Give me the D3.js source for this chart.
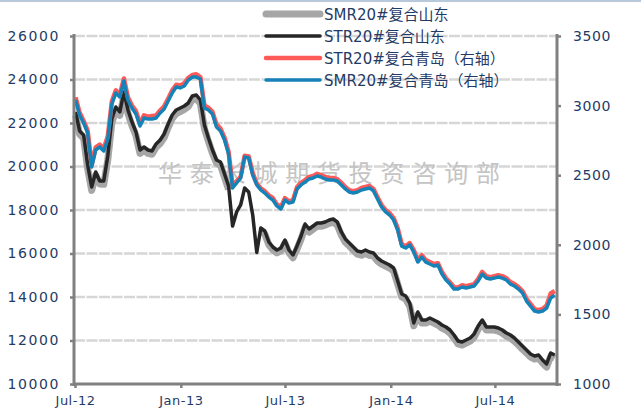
<!DOCTYPE html>
<html>
<head>
<meta charset="utf-8">
<script src="https://cdn.jsdelivr.net/npm/d3@7"></script>
<style>
  body { margin: 0; background: #fff; }
  svg { display: block; }
</style>
</head>
<body>
<div id="chart"></div>
<script>
// weekly readings, first week starting 2012-07-02
var startDate = "2012-07-02";

var smrShandong = [
  22350,21480,21300,19900,18900,19600,19200,19180,20300,22000,
  22580,22350,23250,22450,21880,21420,20600,20740,20600,20560,
  20880,21060,21330,21790,22200,22430,22520,22620,22760,23080,
  23120,22900,21750,21150,20600,20150,20050,19500,18950,null,
  null,null,null,null,null,null,17050,16900,16400,16170,
  16030,16120,16480,16030,15800,16200,16660,17200,16980,17120,
  17260,17250,17300,17390,17430,17300,16850,16520,16340,16150,
  15970,15920,16010,15920,15880,15650,15510,15420,15330,15190,
  14600,14000,13900,13580,12680,13170,12800,12800,12890,12800,
  12710,12570,12480,12340,12110,11840,11790,11880,11970,12150,
  12520,12800,12480,12480,12480,12430,12340,12200,12110,11970,
  11790,11600,11420,11240,11150,11190,10960,10780,11280,11190
];

var strShandong = [
  22507,21633,21449,20070,19058,19748,19334,19334,20483,22185,
  22736,22507,23426,22599,22047,21587,20759,20897,20759,20713,
  21035,21219,21495,21955,22369,22599,22690,22782,22920,23242,
  23288,23058,21909,21311,20759,20300,20208,19656,19104,17265,
  17909,18230,19012,18828,17771,16050,17173,17035,16529,16299,
  16161,16253,16621,16161,15931,16345,16805,17357,17127,17265,
  17403,17403,17449,17541,17587,17449,16989,16667,16483,16299,
  16115,16069,16161,16069,16023,15793,15655,15564,15472,15334,
  14736,14138,14046,13724,12805,13311,12943,12943,13035,12943,
  12851,12713,12621,12483,12253,11977,11931,12023,12115,12299,
  12667,12943,12621,12621,12621,12575,12483,12345,12253,12115,
  11931,11747,11563,11379,11287,11333,11104,10920,11425,11333
];

var strQingdao = [
  3060,2950,2890,2820,2575,2700,2720,2690,2780,3030,
  3110,3080,3195,3060,3000,2960,2870,2930,2920,2925,
  2930,2965,2995,3050,3110,3150,3145,3160,3200,3220,
  3225,3205,3000,2985,2955,2865,2835,2770,2670,2425,
  2455,2490,2640,2635,2515,2440,2405,2385,2355,2335,
  2290,2270,2335,2312,2320,2415,2445,2465,2488,2495,
  2510,2500,2488,2480,2480,2472,2445,2415,2392,2385,
  2392,2408,2415,2422,2400,2342,2285,2250,2228,2192,
  2120,2005,1990,2012,1962,1890,1925,1890,1876,1862,
  1868,1804,1760,1730,1695,1694,1710,1703,1710,1717,
  1755,1805,1775,1768,1775,1782,1775,1760,1732,1718,
  1696,1668,1612,1575,1538,1530,1540,1565,1650,1668
];

var smrQingdao = [
  3040,2932,2875,2803,2559,2681,2703,2674,2760,3011,
  3091,3062,3177,3040,2983,2940,2853,2911,2904,2904,
  2911,2947,2976,3033,3091,3134,3127,3141,3184,3205,
  3205,3191,2983,2968,2940,2846,2818,2753,2652,2408,
  2444,2480,2631,2624,2501,2430,2394,2372,2343,2322,
  2279,2257,2322,2300,2307,2401,2430,2451,2473,2480,
  2494,2487,2473,2466,2466,2458,2430,2401,2379,2372,
  2379,2394,2401,2408,2387,2329,2272,2236,2214,2178,
  2106,1991,1977,1999,1948,1876,1912,1876,1862,1848,
  1855,1790,1747,1718,1682,1682,1697,1690,1697,1704,
  1740,1790,1761,1754,1761,1769,1761,1747,1718,1704,
  1682,1654,1596,1560,1524,1517,1524,1546,1618,1639
];

var leftTicks = [10000,12000,14000,16000,18000,20000,22000,24000,26000];
var rightTicks = [1000,1500,2000,2500,3000,3500];
var xTicks = ["2012-07-01","2013-01-01","2013-07-01","2014-01-01","2014-07-01"];
var seriesNames = ["SMR20#复合山东","STR20#复合山东","STR20#复合青岛（右轴）","SMR20#复合青岛（右轴）"];
var watermark = "华泰长城期货投资咨询部";

function init() {
    var w = 641, h = 417;
    var pLeft = 74, pRight = 557, pTop = 36, pBottom = 384;
    var parse = d3.timeParse("%Y-%m-%d");
    var navy = "#1f3b66";
    var font = "'DejaVu Sans', sans-serif";

    var start = parse(startDate);
    var dates = smrQingdao.map(function(d, i){ return d3.timeDay.offset(start, i * 7); });

    var svg = d3.select("#chart").append("svg")
        .attr("width", w)
        .attr("height", h);

    svg.append("rect").attr("x", 0).attr("y", 0).attr("width", w).attr("height", 2).attr("fill", "#b8c9dc");

    var x = d3.scaleTime()
        .domain([parse("2012-07-01"), parse("2014-10-17")])
        .range([pLeft + 1, pRight]);
    var yL = d3.scaleLinear().domain([10000, 26000]).range([pBottom, pTop]);
    var yR = d3.scaleLinear().domain([1000, 3500]).range([pBottom, pTop]);

    // gridlines
    svg.append("g")
        .selectAll("line")
        .data(leftTicks.slice(1))
        .enter()
        .append("line")
        .attr("x1", pLeft)
        .attr("x2", pRight)
        .attr("y1", function(d){ return yL(d); })
        .attr("y2", function(d){ return yL(d); })
        .attr("stroke", "#d6d6d6")
        .attr("stroke-width", 2.5)
        .attr("stroke-dasharray", "11,1.5");

    // watermark
    svg.append("text")
        .attr("x", 158)
        .attr("y", 182)
        .attr("font-family", "'Noto Sans CJK SC', sans-serif")
        .attr("font-size", 24)
        .attr("letter-spacing", 7.8)
        .attr("fill", "#c4c4c4")
        .text(watermark);

    function lineFor(scale) {
        return d3.line()
            .defined(function(d){ return d.v != null; })
            .x(function(d){ return x(d.date); })
            .y(function(d){ return scale(d.v); });
    }

    function rows(values) {
        return values.map(function(v, i){ return {date: dates[i], v: v}; });
    }

    var series = [
        {vals: smrShandong, scale: yL, color: "#a6a6a6", width: 7},
        {vals: strShandong, scale: yL, color: "#262626", width: 3.5},
        {vals: strQingdao, scale: yR, color: "#ff5a5a", width: 4.5},
        {vals: smrQingdao, scale: yR, color: "#1583b8", width: 3.5}
    ];

    series.forEach(function(s){
        svg.append("path")
            .datum(rows(s.vals))
            .attr("fill", "none")
            .attr("stroke", s.color)
            .attr("stroke-width", s.width)
            .attr("stroke-linejoin", "round")
            .attr("d", lineFor(s.scale));
    });

    // axes
    var axisColor = "#808080";

    var gL = svg.append("g")
        .attr("transform", "translate(" + pLeft + ",0)")
        .call(d3.axisLeft(yL).tickValues(leftTicks).tickSize(4).tickPadding(10).tickFormat(d3.format("d")));
    var gR = svg.append("g")
        .attr("transform", "translate(" + pRight + ",0)")
        .call(d3.axisRight(yR).tickValues(rightTicks).tickSize(4).tickPadding(12).tickFormat(d3.format("d")));
    var gB = svg.append("g")
        .attr("transform", "translate(0," + pBottom + ")")
        .call(d3.axisBottom(x).tickValues(xTicks.map(parse)).tickSize(4).tickPadding(8).tickFormat(d3.timeFormat("%b-%y")));

    [gL, gR, gB].forEach(function(g){
        g.select(".domain").remove();
        g.selectAll(".tick line").attr("stroke", axisColor).attr("stroke-width", 2.5);
        g.selectAll(".tick text")
            .attr("fill", navy)
            .attr("font-family", font)
            .attr("font-size", 14);
    });
    gL.selectAll(".tick text").attr("letter-spacing", 1.6);
    gR.selectAll(".tick text").attr("letter-spacing", 0.6);
    gB.selectAll(".tick text").attr("font-size", 13).attr("letter-spacing", 0.5);

    svg.append("line").attr("x1", pLeft).attr("x2", pLeft).attr("y1", pTop - 2).attr("y2", pBottom + 2)
        .attr("stroke", axisColor).attr("stroke-width", 3);
    svg.append("line").attr("x1", pRight).attr("x2", pRight).attr("y1", pTop - 2).attr("y2", pBottom + 2)
        .attr("stroke", axisColor).attr("stroke-width", 3);
    svg.append("line").attr("x1", pLeft).attr("x2", pRight).attr("y1", pBottom).attr("y2", pBottom)
        .attr("stroke", axisColor).attr("stroke-width", 3);

    // legend
    var legend = svg.append("g").attr("transform", "translate(264,14)");
    var leg = legend.selectAll("g")
        .data(series)
        .enter()
        .append("g")
        .attr("transform", function(d, i){ return "translate(0," + (i * 22) + ")"; });
    leg.append("line")
        .attr("x1", 2).attr("x2", 56)
        .attr("stroke", function(d){ return d.color; })
        .attr("stroke-width", function(d){ return d.width; })
        .attr("stroke-linecap", "round");
    leg.append("text")
        .attr("x", 60)
        .attr("y", 6)
        .attr("fill", navy)
        .attr("font-family", font + ", 'Noto Sans CJK SC'")
        .attr("font-size", 15)
        .text(function(d, i){ return seriesNames[i]; });
}

window.onload = init;
</script>
</body>
</html>
